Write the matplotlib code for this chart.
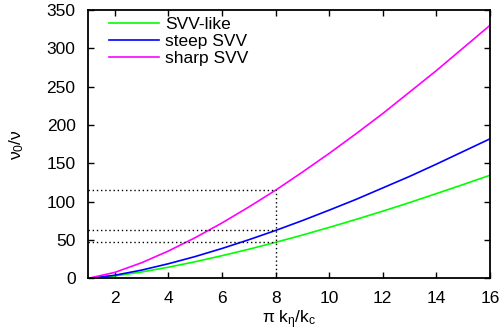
import matplotlib
matplotlib.use("Agg")
import matplotlib.pyplot as plt

plt.rcParams['font.family'] = ['Liberation Sans', 'DejaVu Sans']
plt.rcParams['mathtext.fontset'] = 'custom'
plt.rcParams['mathtext.rm'] = 'Liberation Sans'
plt.rcParams['mathtext.it'] = 'Liberation Sans'
plt.rcParams['mathtext.bf'] = 'Liberation Sans:bold'

x = [1, 2, 3, 4, 5, 6, 7, 8, 9, 10, 11, 12, 13, 14, 15, 16]
svv_like = [0, 3.2, 8.3, 14.6, 21.7, 29.6, 38.0, 47.0, 56.5, 66.5, 76.9, 87.7, 98.9, 110.6, 122.4, 134.5]
steep_svv = [0, 4.1, 10.8, 19.1, 28.5, 39.0, 50.4, 62.5, 75.4, 89.0, 103.0, 118.0, 133.0, 149.0, 165.5, 182.0]
sharp_svv = [0, 7.8, 20.4, 35.7, 53.1, 72.3, 93.1, 115.0, 138.6, 163.0, 188.6, 215.0, 243.0, 271.0, 300.5, 330.0]

x_mark = 8
y_marks = [115.0, 62.5, 47.0]

xticks = [2, 4, 6, 8, 10, 12, 14, 16]
yticks = [0, 50, 100, 150, 200, 250, 300, 350]

fig = plt.figure(figsize=(5.02, 3.35), dpi=100)
ax = fig.add_axes([0.1753, 0.169, 0.976 - 0.1753, 0.970 - 0.169])

ax.plot(x, svv_like, color='#00ff00', lw=1.2, label='SVV-like')
ax.plot(x, steep_svv, color='#0000ff', lw=1.2, label='steep SVV')
ax.plot(x, sharp_svv, color='#ff00ff', lw=1.2, label='sharp SVV')

for ym in y_marks:
    ax.plot([x[0], x_mark], [ym, ym], color='black', lw=1.0, ls=(0, (1, 2)))
ax.plot([x_mark, x_mark], [0, max(y_marks)], color='black', lw=1.0, ls=(0, (1, 2)))

ax.set_xlim(1, 16)
ax.set_ylim(0, 350)
ax.set_xticks(xticks)
ax.set_yticks(yticks)
ax.tick_params(direction='in', top=True, right=True, length=4, width=1, labelsize=12.5)
ax.tick_params(axis='x', pad=9)
ax.tick_params(axis='y', pad=9)
for s in ax.spines.values():
    s.set_linewidth(1.3)

ax.set_xlabel(r'$\pi\ k_{\eta}/k_{c}$', fontsize=12.5, labelpad=2)
ax.set_ylabel(r'$\nu_{0}/\nu$', fontsize=12.5, labelpad=15)

ax.legend(loc='upper left', frameon=False, fontsize=12.5, handlelength=2.9,
          handletextpad=0.35, labelspacing=0.1, borderaxespad=0.0,
          bbox_to_anchor=(0.035, 1.0))

fig.savefig('out.png', dpi=100)
